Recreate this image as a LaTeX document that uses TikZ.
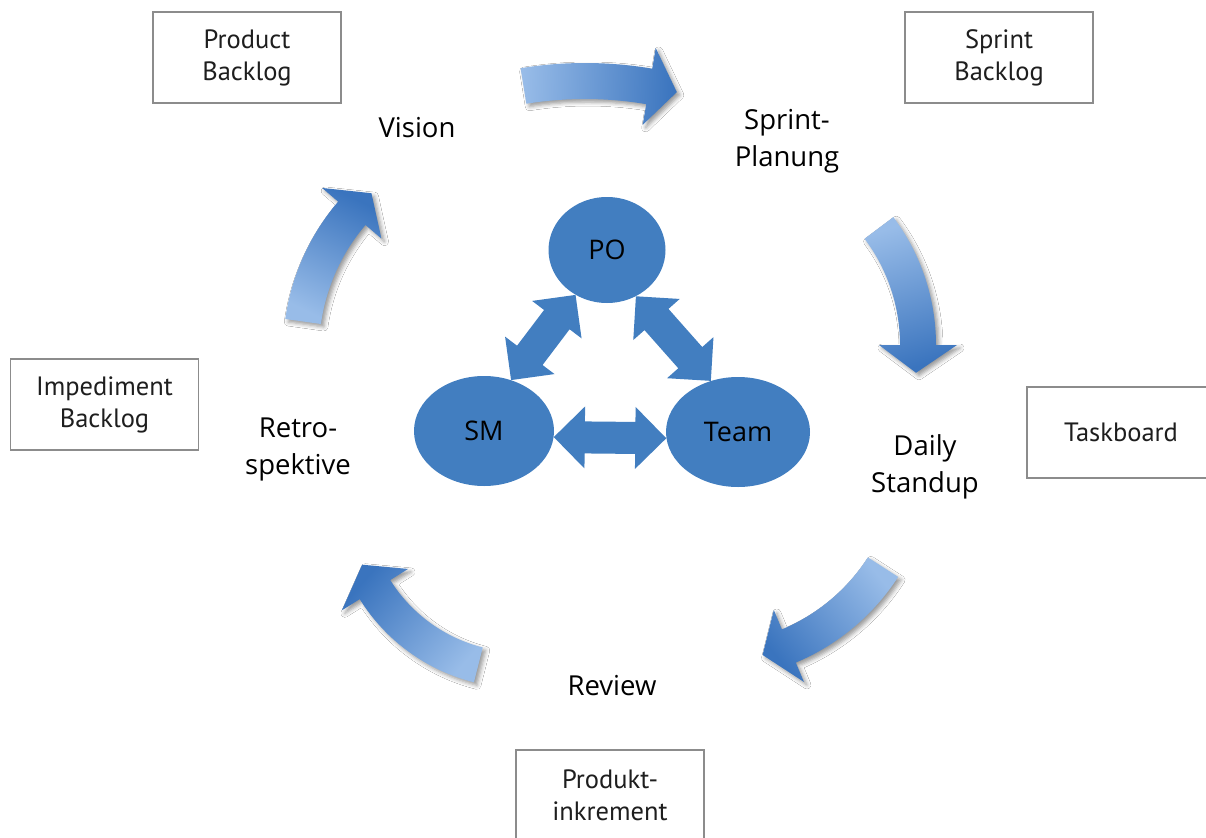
\documentclass[tikz,border=0pt]{standalone}
\usepackage{fontspec}
\setmainfont{Open Sans}
\newfontfamily\boxfont{PT Sans}
\usetikzlibrary{shapes.geometric,shadows.blur,calc}

\definecolor{roleblue}{RGB}{66,126,192}
\definecolor{arrowlight}{RGB}{152,188,232}
\definecolor{arrowdark}{RGB}{58,116,190}
\definecolor{boxgray}{RGB}{140,140,140}
\definecolor{labeltext}{RGB}{30,30,30}

% curved cycle arrow: #1 centre of the arc, #2 mid radius,
% #3 tail angle, #4 head-base angle, #5 tip angle, #6 shading angle
\newcommand\cyclearrow[6]{%
  \path[cycleshade, shading angle=#6, shift={#1}]
    ({#3}:{#2-18}) arc[start angle={#3}, end angle={#4}, radius={#2-18}]
    -- ({#4}:{#2-39}) -- ({#5}:{#2}) -- ({#4}:{#2+39})
    -- ({#4}:{#2+18}) arc[start angle={#4}, end angle={#3}, radius={#2+18}]
    -- cycle;
}

% straight double block arrow between two anchors
\newcommand\roleconnect[2]{%
  \coordinate (ta) at (#1);
  \coordinate (tb) at (#2);
  \coordinate (ha) at ($(ta)!31pt!(tb)$);
  \coordinate (hb) at ($(tb)!31pt!(ta)$);
  \fill[roleblue] (ta)
    -- ($(ha)!31pt!90:(tb)$) -- ($(ha)!16pt!90:(tb)$)
    -- ($(hb)!16pt!-90:(ta)$) -- ($(hb)!31pt!-90:(ta)$)
    -- (tb)
    -- ($(hb)!31pt!90:(ta)$) -- ($(hb)!16pt!90:(ta)$)
    -- ($(ha)!16pt!-90:(tb)$) -- ($(ha)!31pt!-90:(tb)$)
    -- cycle;
}

\tikzset{
  docbox/.style={draw=boxgray, line width=1.3pt, fill=white,
    minimum width=188pt, minimum height=91pt, inner sep=0pt, align=center,
    text=labeltext, font=\boxfont\fontsize{26.5}{32}\selectfont},
  phase/.style={align=center, inner sep=0pt, text=black,
    font=\fontsize{27.5}{37}\selectfont},
  role/.style={ellipse, fill=roleblue, inner sep=0pt, text=black,
    font=\fontsize{27}{32}\selectfont},
  cycleshade/.style={shade, top color=arrowdark, bottom color=arrowlight,
    blur shadow={shadow xshift=3pt, shadow yshift=-3pt,
      shadow blur radius=4pt, shadow opacity=40}},
}

\begin{document}
\begin{tikzpicture}[x=1pt, y=1pt]
  \useasboundingbox (0,0) rectangle (1206,-837);
  \fill[white] (0,0) rectangle (1206,-837);

  % artefact boxes
  \node[docbox] (pbl) at (247,-57.5) {Product\\Backlog};
  \node[docbox] (sbl) at (999,-57.5) {Sprint\\Backlog};
  \node[docbox] (ibl) at (104.5,-404.5) {Impediment\\Backlog};
  \node[docbox] (tbd) at (1121,-432.5) {Taskboard};
  \node[docbox] (pik) at (610,-795.5) {Produkt-\\inkrement};

  % sprint cycle arrows
  \cyclearrow{(585,-466)}{385}{99.2}{80.4}{76.2}{-92}
  \cyclearrow{(723,-345)}{195}{36.9}{0}{-8.2}{-163}
  \cyclearrow{(709,-455)}{207}{-32.8}{-67.3}{-75}{129}
  \cyclearrow{(520,-499)}{171}{255.9}{212}{202.6}{49}
  \cyclearrow{(513,-351)}{212}{172}{139.5}{131.9}{-26}

  % cycle phases
  \node[phase] (vis) at (417,-128) {Vision};
  \node[phase] (spl) at (787,-141) {Sprint-\\Planung};
  \node[phase] (dsu) at (925,-467) {Daily\\Standup};
  \node[phase] (rev) at (612,-686) {Review};
  \node[phase] (ret) at (298,-449) {Retro-\\spektive};

  % scrum roles
  \node[role, minimum width=117pt, minimum height=106pt] (po) at (607,-250) {PO};
  \node[role, minimum width=140pt, minimum height=110pt] (sm) at (484,-431) {SM};
  \node[role, minimum width=144pt, minimum height=110pt] (team) at (738,-432) {Team};

  \roleconnect{po.235}{sm.62}
  \roleconnect{po.302}{team.118}
  \roleconnect{sm.-5}{team.185}
\end{tikzpicture}
\end{document}
